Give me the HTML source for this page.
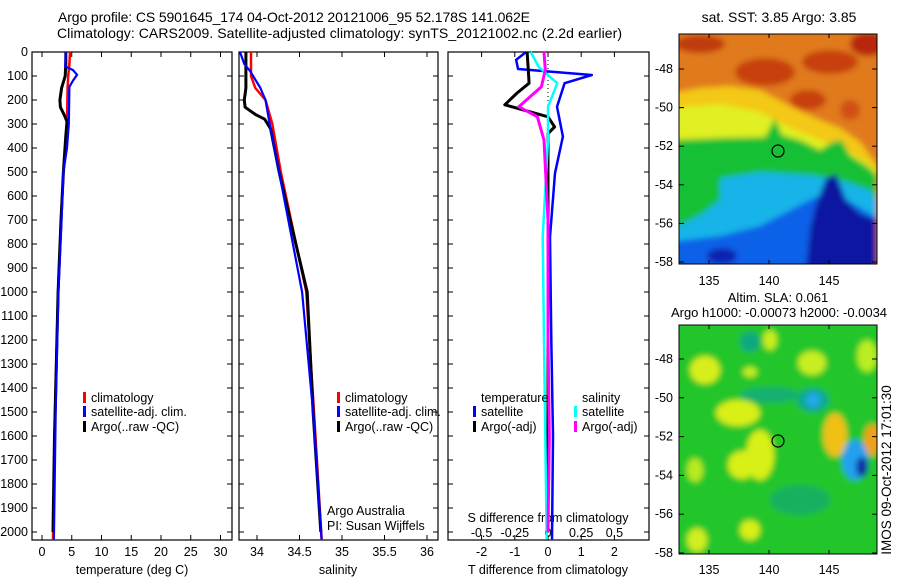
<!DOCTYPE html>
<html><head><meta charset="utf-8"><style>
body{margin:0;background:#fff}
svg text{font-family:"Liberation Sans",sans-serif;font-size:12.5px;fill:#000}
svg text.big{font-size:14px}
</style></head><body>
<svg id="c" width="900" height="580" viewBox="0 0 900 580" xmlns="http://www.w3.org/2000/svg">
<defs>
<filter id="bl" x="-10%" y="-10%" width="120%" height="120%"><feGaussianBlur stdDeviation="3"/></filter>
<clipPath id="m1c"><rect x="679" y="34" width="198" height="230"/></clipPath>
<clipPath id="m2c"><rect x="679" y="325" width="198" height="229"/></clipPath>
</defs>
<text class="big" x="58" y="22" textLength="472">Argo profile: CS 5901645_174 04-Oct-2012 20121006_95 52.178S 141.062E</text>
<text class="big" x="57" y="38" textLength="565">Climatology: CARS2009. Satellite-adjusted climatology: synTS_20121002.nc (2.2d earlier)</text>

<g>
<text class="big" x="779" y="22" text-anchor="middle">sat. SST: 3.85 Argo: 3.85</text>
<g clip-path="url(#m1c)"><g filter="url(#bl)">
<rect x="670" y="25" width="215" height="250" fill="#e07a1c"/>
<ellipse cx="700" cy="44" rx="25" ry="9" fill="#c03a10"/>
<ellipse cx="765" cy="72" rx="30" ry="14" fill="#c8400e"/>
<ellipse cx="830" cy="62" rx="28" ry="12" fill="#c8400e"/>
<ellipse cx="868" cy="44" rx="18" ry="12" fill="#b82808"/>
<ellipse cx="808" cy="100" rx="18" ry="10" fill="#c84010"/>
<ellipse cx="730" cy="100" rx="12" ry="6" fill="#d05014"/>
<ellipse cx="850" cy="110" rx="10" ry="10" fill="#d05014"/>
<polygon points="679,92 700,88 730,86 760,90 790,106 815,118 840,128 860,142 877,165 877,280 670,280 670,92" fill="#f4c818"/>
<polygon points="670,108 720,104 760,112 790,128 820,140 850,152 877,170 877,280 670,280" fill="#e0f020"/>
<polygon points="670,140 720,138 765,137 775,118 782,135 800,140 820,150 832,142 842,140 850,155 870,168 877,176 877,280 670,280" fill="#14c034"/>
<polygon points="720,178 760,172 810,175 840,180 870,190 877,200 877,280 670,280 670,230 700,215 720,200" fill="#18b4e8"/>
<polygon points="670,242 720,236 760,226 800,205 830,190 877,218 877,280 670,280" fill="#1060e8"/>
<polygon points="826,178 836,174 846,200 860,214 877,220 877,280 805,280 810,230 815,208" fill="#0812a0"/>
<ellipse cx="722" cy="256" rx="15" ry="8" fill="#1020b0"/>
</g></g>
<rect x="679" y="34" width="198" height="230" fill="none" stroke="#000" stroke-width="1"/>
<circle cx="778" cy="151" r="6" fill="none" stroke="#000" stroke-width="1.2"/>
</g>

<g>
<text x="778" y="302" text-anchor="middle" style="font-size:13px">Altim. SLA: 0.061</text>
<text x="779" y="317" text-anchor="middle" style="font-size:13px" textLength="216">Argo h1000: -0.00073 h2000: -0.0034</text>
<g clip-path="url(#m2c)"><g filter="url(#bl)">
<rect x="670" y="320" width="215" height="240" fill="#20c62a"/>
<ellipse cx="750" cy="342" rx="10" ry="10" fill="#10a880"/>
<ellipse cx="813" cy="400" rx="16" ry="12" fill="#10a890"/>
<ellipse cx="813" cy="400" rx="7" ry="7" fill="#20a8f0"/>
<ellipse cx="770" cy="395" rx="30" ry="8" fill="#12b070"/>
<ellipse cx="800" cy="500" rx="30" ry="15" fill="#14b060"/>
<ellipse cx="705" cy="370" rx="15" ry="14" fill="#d8ee1c"/>
<ellipse cx="770" cy="340" rx="7" ry="10" fill="#c8ee20"/>
<ellipse cx="750" cy="372" rx="7" ry="5" fill="#c8ee20"/>
<ellipse cx="812" cy="363" rx="14" ry="12" fill="#c8ee20"/>
<ellipse cx="867" cy="356" rx="10" ry="16" fill="#b8ee20"/>
<ellipse cx="738" cy="413" rx="22" ry="13" fill="#d8f018"/>
<ellipse cx="760" cy="455" rx="14" ry="25" fill="#d8f018"/>
<ellipse cx="742" cy="465" rx="14" ry="14" fill="#d8f018"/>
<ellipse cx="835" cy="435" rx="12" ry="22" fill="#f0c018"/>
<ellipse cx="872" cy="440" rx="8" ry="16" fill="#f0a018"/>
<ellipse cx="855" cy="460" rx="13" ry="20" fill="#20a0f0"/>
<ellipse cx="862" cy="467" rx="6" ry="10" fill="#1030a0"/>
<ellipse cx="750" cy="530" rx="10" ry="10" fill="#d8f018"/>
<ellipse cx="697" cy="540" rx="10" ry="12" fill="#d0ee20"/>
<ellipse cx="695" cy="470" rx="8" ry="12" fill="#b8ea20"/>
</g></g>
<rect x="679" y="325" width="198" height="229" fill="none" stroke="#000" stroke-width="1"/>
<circle cx="778" cy="441" r="6" fill="none" stroke="#000" stroke-width="1.2"/>
</g>
<text transform="translate(891,470) rotate(-90)" text-anchor="middle" style="font-size:13.5px">IMOS 09-Oct-2012 17:01:30</text>
</svg>
<script>
// ---- data ----
const depthTicks=[0,100,200,300,400,500,600,700,800,900,1000,1100,1200,1300,1400,1500,1600,1700,1800,1900,2000];
const tempTicks=[0,5,10,15,20,25,30];
const salTicks=[34,34.5,35,35.5,36];
const salTickLabels=["34","34.5","35","35.5","36"];
const tdiffTicks=[-2,-1,0,1,2];
const sdiffTicks=[-0.5,-0.25,0,0.25,0.5];
const sdiffTickLabels=["-0.5","-0.25","0","0.25","0.5"];
const latTicks=[-48,-50,-52,-54,-56,-58];
const lonTicks=[135,140,145];

const tArgoDepth=[0,50,100,150,200,230,260,290,350,500,700,1000,1300,1600,2000];
const tArgoVal=[4.0,4.0,3.9,3.3,3.0,3.1,3.7,4.2,4.0,3.6,3.2,2.7,2.4,2.1,1.85];
const tClimDepth=[0,50,100,150,300,400,500,700,1000,1500,2030];
const tClimVal=[4.7,4.6,4.4,4.3,4.2,4.0,3.6,3.2,2.7,2.2,1.85];
const tSatDepth=[0,60,75,95,120,145,300,400,500,700,1000,1500,2030];
const tSatVal=[4.0,3.9,5.2,5.9,5.2,4.6,4.5,4.2,3.6,3.3,2.75,2.3,2.0];

const sArgoDepth=[0,150,200,230,260,280,320,500,700,1000,1500,2000];
const sArgoVal=[33.87,33.87,33.85,33.86,33.98,34.09,34.16,34.26,34.39,34.59,34.66,34.75];
const sClimDepth=[0,100,150,200,300,500,1000,1500,2030];
const sClimVal=[33.93,33.93,33.98,34.10,34.18,34.28,34.58,34.67,34.76];
const sSatDepth=[0,50,80,150,200,300,500,1000,1500,2030];
const sSatVal=[33.80,33.85,33.92,34.04,34.10,34.15,34.26,34.53,34.66,34.76];

const dTSatDepth=[0,33,71,96,130,228,352,505,770,1200,1600,2030];
const dTSatVal=[-0.66,-0.96,-0.9,1.32,0.5,0.27,0.45,0.21,0.06,0.1,0.15,0.12];
const dTArgoDepth=[0,62,130,171,220,270,312,340,500,1000,1500,2000];
const dTArgoVal=[-0.63,-0.6,-0.57,-0.93,-1.3,0.0,0.2,0.0,0.0,0.0,0.0,0.0];
const dSSatDepth=[0,62,130,228,367,770,1200,1600,2030];
const dSSatVal=[-0.13,-0.07,0.07,0.0,0.0,-0.04,-0.03,-0.02,-0.01];
const dSArgoDepth=[0,75,145,228,270,367,700,1200,1600,2000];
const dSArgoVal=[-0.03,-0.02,-0.05,-0.22,-0.08,-0.03,0.0,0.0,0.01,0.0];

// ---- scales ----
const NS="http://www.w3.org/2000/svg";
const svg=document.getElementById('c');
const Y0=52,Y1=540;
const yD=d=>Y0+d*0.24;
const xT=t=>42+t*5.95;
const xS=s=>257+(s-34)*85;
const xDT=t=>548+t*33.2;
const xDS=s=>548+s*132.8;
const yLat1=l=>69+(-48-l)*19.3;
const yLat2=l=>359+(-48-l)*19.4;
const xLon=l=>709+(l-135)*12;

function mk(tag,attrs,parent){const e=document.createElementNS(NS,tag);for(const k in attrs)e.setAttribute(k,attrs[k]);(parent||svg).appendChild(e);return e;}
function txt(x,y,s,anchor,parent){const t=mk('text',{x:x,y:y,'text-anchor':anchor||'middle'},parent);t.textContent=s;return t;}

const panels=[{x0:32,x1:232,name:'temperature-panel'},{x0:239,x1:438,name:'salinity-panel'},{x0:448,x1:649,name:'difference-panel'}];
const pg=[];
panels.forEach(p=>{
  const g=mk('g',{});
  
  
  pg.push(g);
  const r=mk('rect',{x:p.x0,y:Y0,width:p.x1-p.x0,height:Y1-Y0,fill:'none',stroke:'#000','stroke-width':1.2},g);
  
  
  depthTicks.forEach(d=>{
    mk('line',{x1:p.x0,x2:p.x0+5,y1:yD(d),y2:yD(d),stroke:'#000'},g);
    mk('line',{x1:p.x1-5,x2:p.x1,y1:yD(d),y2:yD(d),stroke:'#000'},g);
  });
});
const yl=mk('g',{},pg[0]);


depthTicks.forEach(d=>{txt(28,yD(d)+4,String(d),'end',yl);});

function xticks(g,ticks,labels,fx,ylab){
  ticks.forEach((v,i)=>{
    const x=fx(v);
    mk('line',{x1:x,x2:x,y1:Y0,y2:Y0+5,stroke:'#000'},g);
    mk('line',{x1:x,x2:x,y1:Y1-5,y2:Y1,stroke:'#000'},g);
    if(labels) txt(x,ylab,labels[i],'middle',g);
  });
}
xticks(pg[0],tempTicks,tempTicks.map(String),xT,556);
xticks(pg[1],salTicks,salTickLabels,xS,556);
xticks(pg[2],tdiffTicks,tdiffTicks.map(String),xDT,556);
sdiffTicks.forEach((v,i)=>{txt(xDS(v),537,sdiffTickLabels[i],'middle',pg[2]);});
let t;
t=txt(132,574,'temperature (deg C)','middle',pg[0]);
t=txt(338,574,'salinity','middle',pg[1]);
t=txt(548,574,'T difference from climatology','middle',pg[2]);
t=txt(548,522,'S difference from climatology','middle',pg[2]);
t=txt(327,515,'Argo Australia','start',pg[1]);
t=txt(327,530,'PI: Susan Wijffels','start',pg[1]);

mk('line',{x1:xDT(0),x2:xDT(0),y1:Y0,y2:Y1,stroke:'#000','stroke-dasharray':'1,3'},pg[2]);

function series(g,dep,val,fx,color,w,name){
  const pts=dep.map((d,i)=>fx(val[i]).toFixed(1)+','+yD(d).toFixed(1)).join(' ');
  const l=mk('polyline',{points:pts,fill:'none',stroke:color,'stroke-width':w,'stroke-linejoin':'round'},g);
  
  
}
series(pg[0],tClimDepth,tClimVal,xT,'#f00',2.5,'temp-climatology-line');
series(pg[0],tArgoDepth,tArgoVal,xT,'#000',3,'temp-argo-line');
series(pg[0],tSatDepth,tSatVal,xT,'#00f',2.2,'temp-satellite-line');
series(pg[1],sClimDepth,sClimVal,xS,'#f00',2.5,'sal-climatology-line');
series(pg[1],sArgoDepth,sArgoVal,xS,'#000',3,'sal-argo-line');
series(pg[1],sSatDepth,sSatVal,xS,'#00f',2.2,'sal-satellite-line');
series(pg[2],dTSatDepth,dTSatVal,xDT,'#00f',2.5,'tdiff-satellite-line');
series(pg[2],dTArgoDepth,dTArgoVal,xDT,'#000',3,'tdiff-argo-line');
series(pg[2],dSSatDepth,dSSatVal,xDS,'#0ff',2.5,'sdiff-satellite-line');
series(pg[2],dSArgoDepth,dSArgoVal,xDS,'#f0f',3,'sdiff-argo-line');

function legend(g,x,y,color,label){
  const lg=mk('g',{},g);
  
  
  mk('rect',{x:x-8,y:y-10,width:3,height:11,fill:color},lg);
  txt(x,y,label,'start',lg);
}
legend(pg[0],91,402,'#f00','climatology');
legend(pg[0],91,416,'#00f','satellite-adj. clim.');
legend(pg[0],91,431,'#000','Argo(..raw -QC)');
legend(pg[1],345,402,'#f00','climatology');
legend(pg[1],345,416,'#00f','satellite-adj. clim.');
legend(pg[1],345,431,'#000','Argo(..raw -QC)');
txt(481,402,'temperature','start',pg[2]);
txt(582,402,'salinity','start',pg[2]);
legend(pg[2],481,416,'#00f','satellite');
legend(pg[2],481,431,'#000','Argo(-adj)');
legend(pg[2],582,416,'#0ff','satellite');
legend(pg[2],582,431,'#f0f','Argo(-adj)');

function mapAxes(yTop,yBot,fy,labY,name){
  const g=mk('g',{});
  
  
  latTicks.forEach(l=>{
    const y=fy(l);
    mk('line',{x1:679,x2:684,y1:y,y2:y,stroke:'#000'},g);
    mk('line',{x1:872,x2:877,y1:y,y2:y,stroke:'#000'},g);
    txt(673,y+4,String(l),'end',g);
  });
  lonTicks.forEach(l=>{
    const x=xLon(l);
    mk('line',{x1:x,x2:x,y1:yTop,y2:yTop+4,stroke:'#000'},g);
    mk('line',{x1:x,x2:x,y1:yBot-4,y2:yBot,stroke:'#000'},g);
    txt(x,labY,String(l),'middle',g);
  });
}
mapAxes(34,264,yLat1,285,'sst-map-axes');
mapAxes(325,554,yLat2,574,'sla-map-axes');
</script>
</body></html>
